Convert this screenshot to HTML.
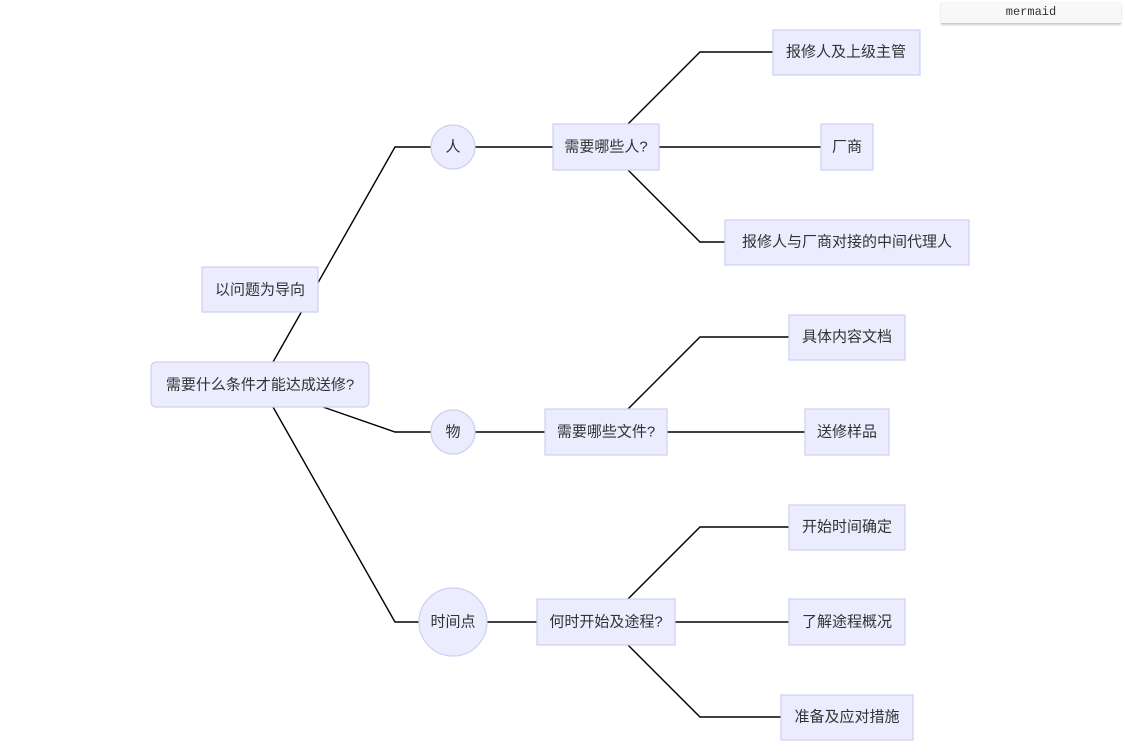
<!DOCTYPE html>
<html><head><meta charset="utf-8"><style>
body{margin:0;background:#fff;width:1125px;height:756px;overflow:hidden;position:relative}
.btn{position:absolute;left:941px;top:2px;width:180px;height:21px;background:#f8f8f8;border-bottom:1px solid #ccc;box-shadow:0 1px 2px #ccc;font:12px "Liberation Mono",monospace;color:#333;text-align:center;line-height:21px}
text{font-family:"Liberation Sans","Noto Sans CJK SC",sans-serif;font-size:15px;fill:#333;text-anchor:middle;dominant-baseline:central}
rect,circle{fill:#ECECFF;stroke:#cfcff3;stroke-width:1.2}
polyline,line{fill:none;stroke:#000;stroke-width:1.4}
</style></head><body>
<svg width="1125" height="756" style="position:absolute;left:0;top:0">
<polyline points="273,362 395,147 431,147"/>
<polyline points="323,407 395,432 431,432"/>
<polyline points="273,407 395,622 419,622"/>
<line x1="475" y1="147" x2="553" y2="147"/>
<line x1="475" y1="432" x2="545" y2="432"/>
<line x1="487" y1="622" x2="537" y2="622"/>
<polyline points="628,124 700,52 773,52"/>
<line x1="659" y1="147" x2="821" y2="147"/>
<polyline points="628,170 700,242 725,242"/>
<polyline points="628,409 700,337 789,337"/>
<line x1="667" y1="432" x2="805" y2="432"/>
<polyline points="628,599 700,527 789,527"/>
<line x1="675" y1="622" x2="789" y2="622"/>
<polyline points="628,645 700,717 781,717"/>

<rect x="151" y="362" width="218" height="45" rx="5"/><text x="260" y="385">需要什么条件才能达成送修?</text>
<rect x="202" y="267" width="116" height="45"/><text x="260" y="290">以问题为导向</text>
<circle cx="453" cy="147" r="22"/><text x="453" y="147">人</text>
<circle cx="453" cy="432" r="22"/><text x="453" y="432">物</text>
<circle cx="453" cy="622" r="34"/><text x="453" y="622">时间点</text>
<rect x="553" y="124" width="106" height="46"/><text x="606" y="147">需要哪些人?</text>
<rect x="545" y="409" width="122" height="46"/><text x="606" y="432">需要哪些文件?</text>
<rect x="537" y="599" width="138" height="46"/><text x="606" y="622">何时开始及途程?</text>
<rect x="773" y="30" width="147" height="45"/><text x="846" y="52">报修人及上级主管</text>
<rect x="821" y="124" width="52" height="46"/><text x="847" y="147">厂商</text>
<rect x="725" y="220" width="244" height="45"/><text x="847" y="242">报修人与厂商对接的中间代理人</text>
<rect x="789" y="315" width="116" height="45"/><text x="847" y="337">具体内容文档</text>
<rect x="805" y="409" width="84" height="46"/><text x="847" y="432">送修样品</text>
<rect x="789" y="505" width="116" height="45"/><text x="847" y="527">开始时间确定</text>
<rect x="789" y="599" width="116" height="46"/><text x="847" y="622">了解途程概况</text>
<rect x="781" y="695" width="132" height="45"/><text x="847" y="717">准备及应对措施</text>
</svg>
<div class="btn">mermaid</div>
</body></html>
